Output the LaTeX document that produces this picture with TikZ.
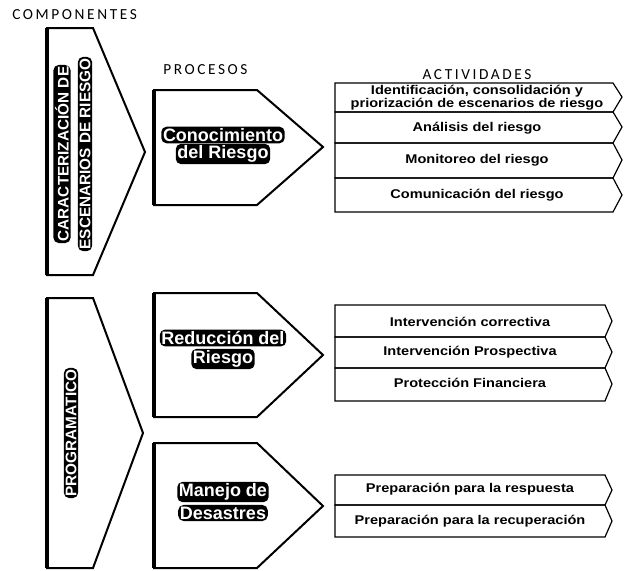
\documentclass[tikz,border=0pt]{standalone}
\usepackage{fontspec}
\setmainfont{Liberation Sans}
\newfontfamily\hdrfont{Carlito}[LetterSpace=17.0]
\newfontfamily\actfont{Liberation Sans}[FakeStretch=1.15]

\begin{document}
\begin{tikzpicture}[x=0.75pt, y=-0.75pt,
    header/.style={font=\hdrfont\fontsize{11.5}{13}\selectfont, inner sep=0pt},
    outline/.style={draw=black, line width=1.5pt, line join=miter},
    edge/.style={draw=black, line width=3pt},
    halo/.style={fill=black, text=white, rounded corners=4pt, inner sep=1.3pt,
        font=\bfseries\fontsize{13.5}{14}\selectfont},
    comptext/.style={halo, rotate=90, font=\bfseries\fontsize{11.5}{12}\selectfont},
    actbox/.style={draw=black, line width=0.9pt, line join=miter},
    acttext/.style={font=\actfont\bfseries\fontsize{9.5}{9.8}\selectfont, align=center, inner sep=0pt}]
    \useasboundingbox (0,0) rectangle (625,571);

    % Headers
    \node[header, anchor=west] (hdrcomp) at (12, 15) {COMPONENTES};
    \node[header, anchor=west] (hdrproc) at (163, 70) {PROCESOS};
    \node[header] (hdract) at (477, 75) {ACTIVIDADES};

    % Components
    \draw[outline] (47,28) -- (93,28) -- (145,152) -- (93,275) -- (47,275) -- cycle;
    \draw[edge] (47,28) -- (47,275);
    \node[comptext] (carac1) at (62, 154) {CARACTERIZACIÓN DE};
    \node[comptext] (carac2) at (85, 154) {ESCENARIOS DE RIESGO};

    \draw[outline] (47,298) -- (93,298) -- (143,433) -- (93,568) -- (47,568) -- cycle;
    \draw[edge] (47,298) -- (47,568);
    \node[comptext] (prog) at (71, 433) {PROGRAMATICO};

    % Processes
    \draw[outline] (154,90) -- (257,90) -- (323,147) -- (257,205) -- (154,205) -- cycle;
    \draw[edge] (154,90) -- (154,205);
    \node[halo] (con1) at (223, 135) {Conocimiento};
    \node[halo] (con2) at (223, 154) {del Riesgo};

    \draw[outline] (154,293) -- (257,293) -- (323,355) -- (257,417) -- (154,417) -- cycle;
    \draw[edge] (154,293) -- (154,417);
    \node[halo] (red1) at (223, 338) {Reducción del};
    \node[halo] (red2) at (223, 359) {Riesgo};

    \draw[outline] (154,443) -- (257,443) -- (323,506) -- (257,568) -- (154,568) -- cycle;
    \draw[edge] (154,443) -- (154,568);
    \node[halo] (man1) at (223, 492) {Manejo de};
    \node[halo] (man2) at (223, 513) {Desastres};

    % Activities: knowledge
    \draw[actbox] (335,83) -- (613,83) -- (622,97) -- (613,112) -- (335,112) -- cycle;
    \draw[actbox] (335,112) -- (613,112) -- (622,127) -- (613,143) -- (335,143) -- cycle;
    \draw[actbox] (335,143) -- (613,143) -- (622,160) -- (613,178) -- (335,178) -- cycle;
    \draw[actbox] (335,178) -- (613,178) -- (622,195) -- (613,212) -- (335,212) -- cycle;
    \node[acttext] (idn) at (477, 98) {Identificación, consolidación y\\priorización de escenarios de riesgo};
    \node[acttext] (ana) at (477, 128) {Análisis del riesgo};
    \node[acttext] (mon) at (477, 160) {Monitoreo del riesgo};
    \node[acttext] (com) at (477, 195) {Comunicación del riesgo};

    % Activities: reduction
    \draw[actbox] (335,305) -- (605,305) -- (612,321) -- (605,337) -- (335,337) -- cycle;
    \draw[actbox] (335,337) -- (605,337) -- (612,352) -- (605,368) -- (335,368) -- cycle;
    \draw[actbox] (335,368) -- (605,368) -- (612,384) -- (605,401) -- (335,401) -- cycle;
    \node[acttext] (cor) at (470, 322) {Intervención correctiva};
    \node[acttext] (pro) at (470, 352) {Intervención Prospectiva};
    \node[acttext] (fin) at (470, 383) {Protección Financiera};

    % Activities: disasters
    \draw[actbox] (335,475) -- (605,475) -- (612,490) -- (605,505) -- (335,505) -- cycle;
    \draw[actbox] (335,505) -- (605,505) -- (612,521) -- (605,537) -- (335,537) -- cycle;
    \node[acttext] (res) at (470, 489) {Preparación para la respuesta};
    \node[acttext] (rec) at (470, 521) {Preparación para la recuperación};
\end{tikzpicture}
\end{document}
